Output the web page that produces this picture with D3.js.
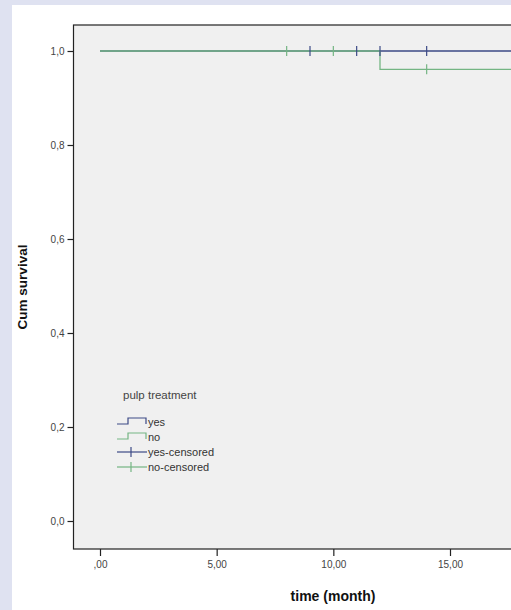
<!DOCTYPE html>
<html><head><meta charset="utf-8">
<script src="https://cdn.jsdelivr.net/npm/d3@7"></script>
<style>
html,body{margin:0;padding:0;background:#dfe2f1;}
svg{display:block;}
</style></head>
<body>
<script>
// ---- data ----
const yesSteps = [{t:0, s:1.0}, {t:18, s:1.0}];
const noSteps = [{t:0, s:1.0}, {t:12, s:0.961}, {t:18, s:0.961}];
const yesCensored = [{t:9, s:1.0}, {t:11, s:1.0}, {t:12, s:1.0}, {t:14, s:1.0}];
const noCensored = [{t:8, s:1.0}, {t:10, s:1.0}, {t:14, s:0.961}];
const xTicks = [0, 5, 10, 15];
const xTickLabels = [",00", "5,00", "10,00", "15,00"];
const yTicks = [0, 0.2, 0.4, 0.6, 0.8, 1.0];
const yTickLabels = ["0,0", "0,2", "0,4", "0,6", "0,8", "1,0"];
const legendItems = ["yes", "no", "yes-censored", "no-censored"];

const W = 511, H = 610;
const blue = "#3c4a86", green = "#74b583";
const svg = d3.select("body").append("svg").attr("width", W).attr("height", H);
svg.append("rect").attr("x",0).attr("y",0).attr("width",W).attr("height",H).attr("fill","#dfe2f1");
svg.append("rect").attr("x",12).attr("y",5).attr("width",W-12).attr("height",H-5).attr("fill","#ffffff");

const plotL = 73.5, plotT = 25, plotB = 549, plotR = 540;
const x = d3.scaleLinear().domain([0, 15]).range([100, 450]);
const y = d3.scaleLinear().domain([0, 1]).range([521, 51]);

svg.append("rect").attr("x",plotL).attr("y",plotT).attr("width",plotR-plotL).attr("height",plotB-plotT)
  .attr("fill","#f0f0f0").attr("stroke","#222").attr("stroke-width",1.2);

const lf = "Liberation Sans, Arial, sans-serif";
// axes
const xAxis = d3.axisBottom(x).tickValues(xTicks).tickFormat((d,i)=>xTickLabels[i]).tickSize(7).tickPadding(5);
const gx = svg.append("g").attr("transform",`translate(0,${plotB})`).call(xAxis);
gx.select(".domain").remove();
gx.selectAll("line").attr("stroke","#222").attr("stroke-width",1.2);
gx.selectAll("text").attr("font-family",lf).attr("font-size","10px").attr("fill","#444");

const yAxis = d3.axisLeft(y).tickValues(yTicks).tickFormat((d,i)=>yTickLabels[i]).tickSize(6).tickPadding(3);
const gy = svg.append("g").attr("transform",`translate(${plotL},0)`).call(yAxis);
gy.select(".domain").remove();
gy.selectAll("line").attr("stroke","#222").attr("stroke-width",1.2);
gy.selectAll("text").attr("font-family",lf).attr("font-size","10px").attr("fill","#444");

// titles
svg.append("text").attr("x",333).attr("y",601).attr("text-anchor","middle")
  .attr("font-family",lf).attr("font-size","14px").attr("font-weight","bold")
  .attr("fill","#111").text("time (month)");
svg.append("text").attr("transform","translate(27,287) rotate(-90)").attr("text-anchor","middle")
  .attr("font-family",lf).attr("font-size","13.5px").attr("font-weight","bold")
  .attr("fill","#111").text("Cum survival");

// clip
svg.append("clipPath").attr("id","clip").append("rect").attr("x",plotL).attr("y",plotT).attr("width",plotR-plotL).attr("height",plotB-plotT);
const g = svg.append("g").attr("clip-path","url(#clip)");

const line = d3.line().x(d=>x(d.t)).y(d=>y(d.s)).curve(d3.curveStepAfter);
g.append("path").datum(yesSteps).attr("d",line).attr("fill","none").attr("stroke",blue).attr("stroke-width",1.3);
g.append("path").datum(noSteps).attr("d",line).attr("fill","none").attr("stroke",green).attr("stroke-width",1.3);

function censor(data, color){
  g.selectAll(null).data(data).enter().append("line")
    .attr("x1",d=>x(d.t)).attr("x2",d=>x(d.t))
    .attr("y1",d=>y(d.s)-5).attr("y2",d=>y(d.s)+5)
    .attr("stroke",color).attr("stroke-width",1.2);
}
censor(yesCensored, blue);
censor(noCensored, green);

// legend
svg.append("text").attr("x",123).attr("y",399).attr("font-family",lf).attr("font-size","11.5px").attr("fill","#444").text("pulp treatment");
const colors = [blue, green, blue, green];
legendItems.forEach((name,i)=>{
  const cy = 422 + i*15;
  const gg = svg.append("g");
  if(i<2){
    gg.append("path").attr("d",`M117,${cy+2}H128V${cy-4}H146V${cy+2}`)
      .attr("fill","none").attr("stroke",colors[i]).attr("stroke-width",1.2);
  } else {
    gg.append("line").attr("x1",117).attr("x2",147).attr("y1",cy).attr("y2",cy).attr("stroke",colors[i]).attr("stroke-width",1.2);
    gg.append("line").attr("x1",131).attr("x2",131).attr("y1",cy-5).attr("y2",cy+5).attr("stroke",colors[i]).attr("stroke-width",1.2);
  }
  gg.append("text").attr("x",148).attr("y",cy+4).attr("font-family",lf).attr("font-size","11px").attr("fill","#333").text(name);
});
</script>
</body></html>
